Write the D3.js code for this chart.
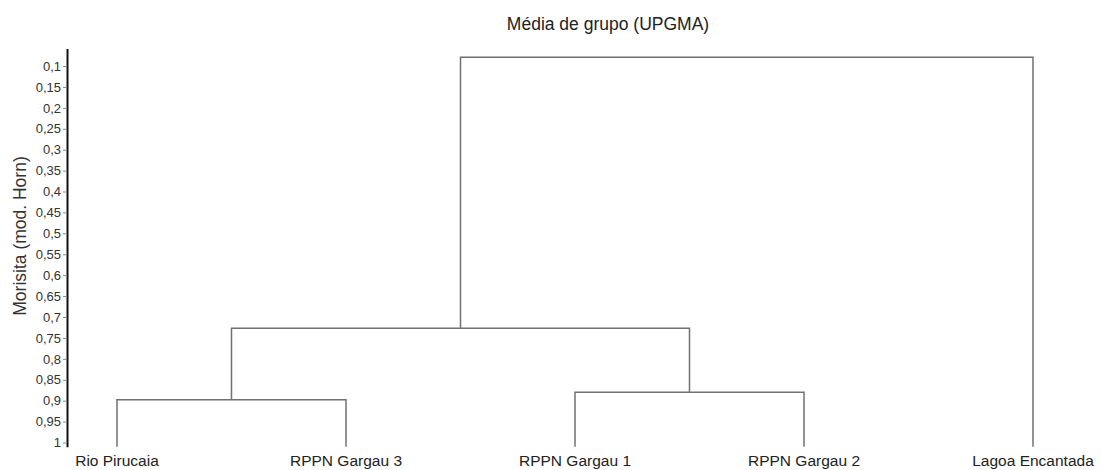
<!DOCTYPE html>
<html>
<head>
<meta charset="utf-8">
<script src="https://cdn.jsdelivr.net/npm/d3@7"></script>
<style>
  html, body { margin: 0; padding: 0; background: #fff; }
  svg { display: block; font-family: "Liberation Sans", Arial, sans-serif; }
</style>
</head>
<body>
<svg id="chart" width="1101" height="470"></svg>
<script>
// Sites (leaves of the dendrogram), left to right
const leaves = ["Rio Pirucaia", "RPPN Gargau 3", "RPPN Gargau 1", "RPPN Gargau 2", "Lagoa Encantada"];

// UPGMA joins: node ids 0..4 are leaves, each join creates the next id (5, 6, 7, 8)
const joinLeft   = [0, 2, 5, 7];
const joinRight  = [1, 3, 6, 4];
const joinHeight = [0.898, 0.88, 0.727, 0.079];

// Similarity axis ticks
const tickValues = [0.1, 0.15, 0.2, 0.25, 0.3, 0.35, 0.4, 0.45, 0.5, 0.55, 0.6, 0.65, 0.7, 0.75, 0.8, 0.85, 0.9, 0.95, 1];
const tickLabels = ["0,1", "0,15", "0,2", "0,25", "0,3", "0,35", "0,4", "0,45", "0,5", "0,55", "0,6", "0,65", "0,7", "0,75", "0,8", "0,85", "0,9", "0,95", "1"];

const axisTop = 0.058, axisBottom = 1.01;

const svg = d3.select("#chart");

const base = d3.scaleLinear().domain([0.1, 1]).range([66, 442.5]);
const y = d3.scaleLinear().domain([axisTop, axisBottom]).range([base(axisTop), base(axisBottom)]);
const x = d3.scalePoint().domain(leaves).range([117, 1033]);

// Node positions: leaves first, then joins
const nodeX = leaves.map(d => x(d));
const nodeY = leaves.map(() => y(axisBottom));
joinLeft.forEach((l, i) => {
  const r = joinRight[i];
  nodeX.push((nodeX[l] + nodeX[r]) / 2);
  nodeY.push(y(joinHeight[i]));
});

// Dendrogram links: vertical from each child up to the join, then the horizontal bar
const g = svg.append("g")
  .attr("fill", "none")
  .attr("stroke", "#707070")
  .attr("stroke-width", 1.5);

joinLeft.forEach((l, i) => {
  const r = joinRight[i];
  const yy = y(joinHeight[i]);
  const path = d3.path();
  path.moveTo(nodeX[l], nodeY[l]);
  path.lineTo(nodeX[l], yy);
  path.lineTo(nodeX[r], yy);
  path.lineTo(nodeX[r], nodeY[r]);
  g.append("path").attr("d", path.toString());
});

// Y axis
const axis = d3.axisLeft(y)
  .tickValues(tickValues)
  .tickFormat((d, i) => tickLabels[i])
  .tickSize(4)
  .tickSizeOuter(0)
  .tickPadding(2);

const ax = svg.append("g")
  .attr("transform", "translate(67,0)")
  .call(axis);
ax.select(".domain").attr("stroke", "#111").attr("stroke-width", 2);
ax.selectAll(".tick line").attr("stroke", "#888").attr("stroke-width", 1);
ax.selectAll(".tick text")
  .attr("fill", "#333")
  .style("font-size", "13px")
  .style("font-family", "'Liberation Sans', Arial, sans-serif");

// Leaf labels
svg.append("g").selectAll("text")
  .data(leaves)
  .join("text")
  .attr("x", d => x(d))
  .attr("y", 466)
  .attr("text-anchor", "middle")
  .attr("fill", "#222")
  .style("font-size", "15.5px")
  .text(d => d);

// Axis title
svg.append("text")
  .attr("transform", "translate(26,236) rotate(-90)")
  .attr("text-anchor", "middle")
  .attr("fill", "#333")
  .style("font-size", "17.5px")
  .text("Morisita (mod. Horn)");

// Chart title
svg.append("text")
  .attr("x", 608)
  .attr("y", 30)
  .attr("text-anchor", "middle")
  .attr("fill", "#222")
  .style("font-size", "17.5px")
  .text("Média de grupo (UPGMA)");
</script>
</body>
</html>
